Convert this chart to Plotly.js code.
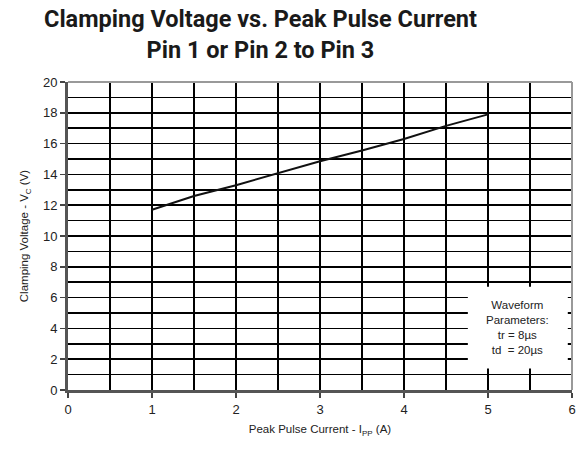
<!DOCTYPE html>
<html>
<head>
<meta charset="utf-8">
<script src="https://cdn.plot.ly/plotly-3.0.1.min.js"></script>
<style>html,body{margin:0;padding:0;background:#fff;}#chart{width:582px;height:450px;}</style>
</head>
<body>
<div id="chart"></div>
<script>
const currentA = [1, 1.5, 2, 2.5, 3, 3.5, 4, 4.5, 5];
const clampV = [11.7, 12.6, 13.3, 14.1, 14.85, 15.55, 16.3, 17.15, 17.9];
const titleText = 'Clamping Voltage vs. Peak Pulse Current<br>Pin 1 or Pin 2 to Pin 3';
const xTitle = 'Peak Pulse Current - I<sub>PP</sub> (A)';
const yTitle = 'Clamping Voltage - V<sub>C</sub> (V)';
const noteText = 'Waveform<br>Parameters:<br>tr = 8µs<br>td  = 20µs';

const trace = {
  x: currentA, y: clampV, type: 'scatter', mode: 'lines',
  line: {color: '#111', width: 2}, hoverinfo: 'skip'
};

const layout = {
  width: 582, height: 450,
  margin: {l: 68, r: 10, t: 82, b: 60},
  paper_bgcolor: '#fff', plot_bgcolor: '#fff',
  showlegend: false,
  font: {family: 'Liberation Sans, Arial, sans-serif', color: '#222'},
  xaxis: {
    range: [0, 6], dtick: 1, tick0: 0,
    showgrid: true, gridcolor: '#000', gridwidth: 1.6,
    minor: {dtick: 0.5, showgrid: true, gridcolor: '#000', gridwidth: 1.6},
    ticks: 'outside', ticklen: 5, tickcolor: '#444', tickwidth: 1.5,
    showline: true, linecolor: '#555', linewidth: 3,
    zeroline: false,
    tickfont: {size: 13, color: '#222'},
    title: {text: xTitle, font: {size: 11.5, color: '#222'}, standoff: 10}
  },
  yaxis: {
    range: [0, 20], dtick: 2, tick0: 0,
    showgrid: true, gridcolor: '#000', gridwidth: 1.6,
    minor: {dtick: 1, showgrid: true, gridcolor: '#000', gridwidth: 1.6},
    ticks: 'outside', ticklen: 5, tickcolor: '#444', tickwidth: 1.5,
    showline: true, linecolor: '#555', linewidth: 3,
    zeroline: false,
    tickfont: {size: 13, color: '#222'},
    title: {text: yTitle, font: {size: 11.5, color: '#222'}, standoff: 12}
  },
  shapes: [
    {type: 'rect', xref: 'x', yref: 'y', x0: 4.76, x1: 5.95, y0: 1.4, y1: 6.7,
     fillcolor: '#fff', line: {width: 0}, layer: 'above'},
    {type: 'line', xref: 'paper', yref: 'paper', x0: 0, x1: 1, y0: 1, y1: 1,
     line: {color: '#999', width: 2}},
    {type: 'line', xref: 'paper', yref: 'paper', x0: 1, x1: 1, y0: 0, y1: 1,
     line: {color: '#999', width: 2}}
  ],
  annotations: [
    {xref: 'paper', yref: 'paper', x: 0.381, y: 1.1526, text: titleText, showarrow: false,
     align: 'center', xanchor: 'center', yanchor: 'middle',
     font: {family: 'Roboto, Liberation Sans, sans-serif', size: 23.5, color: '#1a1a1a', weight: 'bold'}},
    {xref: 'x', yref: 'y', x: 5.355, y: 4.05, text: noteText, showarrow: false,
     align: 'center', font: {size: 11.5, color: '#222'}, xanchor: 'center', yanchor: 'middle'}
  ]
};

Plotly.newPlot('chart', [trace], layout, {displayModeBar: false, staticPlot: true});
</script>
</body>
</html>
